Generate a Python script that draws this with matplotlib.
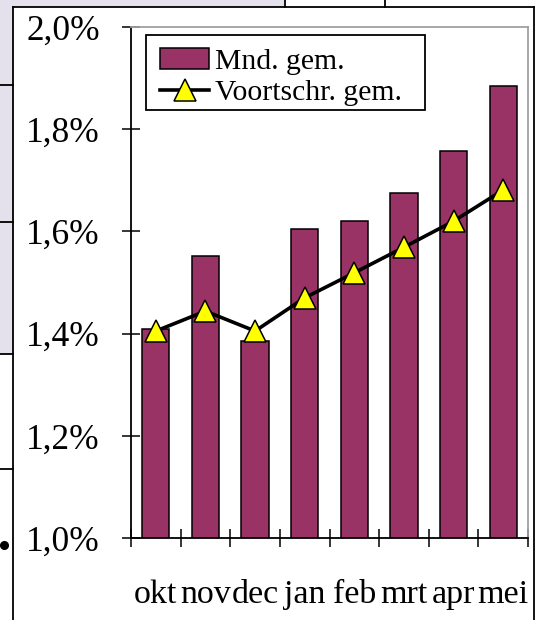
import matplotlib.pyplot as plt
from matplotlib.lines import Line2D
from matplotlib.patches import Rectangle
from matplotlib.ticker import FixedLocator, FuncFormatter

plt.rcParams["font.family"] = ["Liberation Serif", "DejaVu Serif"]

# Data (percent)
months = ["okt", "nov", "dec", "jan", "feb", "mrt", "apr", "mei"]
monthly_avg = [1.409, 1.552, 1.386, 1.605, 1.620, 1.675, 1.757, 1.885]
running_avg = [1.405, 1.444, 1.405, 1.470, 1.519, 1.569, 1.620, 1.681]

W, H = 539, 620
fig = plt.figure(figsize=(W / 100, H / 100), dpi=100)


def fx(px):
    return px / W


def fy(py):
    return 1 - py / H


# Slide remnants around the chart
lavender = "#E4E0EC"
fig.add_artist(Rectangle((0, fy(354)), fx(13), 354 / H, transform=fig.transFigure,
                         facecolor=lavender, edgecolor="none", zorder=0))
fig.add_artist(Rectangle((0, fy(7)), fx(285), 7 / H, transform=fig.transFigure,
                         facecolor=lavender, edgecolor="none", zorder=0))
frame_lines = [
    ((13, 13), (7, 620)),
    ((13, 534), (7, 7)),
    ((534, 534), (7, 620)),
    ((285, 285), (0, 7)),
    ((385, 385), (0, 7)),
    ((0, 13), (85, 85)),
    ((0, 13), (222, 222)),
    ((0, 13), (354, 354)),
    ((0, 13), (469, 469)),
]
for xs, ys in frame_lines:
    fig.add_artist(Line2D([fx(x) for x in xs], [fy(y) for y in ys],
                          transform=fig.transFigure, color="black", lw=1.3))
fig.add_artist(Line2D([fx(4)], [fy(545)], transform=fig.transFigure,
                      marker="o", markersize=5.5, color="black", lw=0))

# Plot area
ax = fig.add_axes([fx(131), fy(538), fx(528) - fx(131), fy(27) - fy(538)])
x = list(range(len(months)))

bars = ax.bar(x, monthly_avg, width=0.55, color="#993366", edgecolor="black",
              linewidth=1.1, label="Mnd. gem.", zorder=2)
line, = ax.plot(x, running_avg, color="black", lw=2.6, marker="^", markersize=16.5,
                markerfacecolor="#FFFF00", markeredgecolor="black",
                markeredgewidth=1.1, label="Voortschr. gem.", zorder=3)

ax.set_xlim(-0.5, len(months) - 0.5)
ax.set_ylim(1.0, 2.0)
ax.set_yticks([1.0, 1.2, 1.4, 1.6, 1.8, 2.0])
ax.yaxis.set_major_formatter(FuncFormatter(lambda v, p: f"{v:.1f}%".replace(".", ",")))

ax.xaxis.set_major_locator(FixedLocator([i - 0.5 for i in range(len(months) + 1)]))
ax.xaxis.set_minor_locator(FixedLocator(x))
ax.set_xticklabels([], minor=False)
ax.set_xticklabels(months, minor=True)

ax.tick_params(axis="both", which="major", direction="inout", length=13, width=1.1,
               color="black")
ax.tick_params(axis="y", labelsize=25.5, pad=16)
ax.tick_params(axis="x", which="minor", length=0, labelsize=24.5, pad=30)

for side in ["left", "bottom"]:
    ax.spines[side].set_color("black")
    ax.spines[side].set_linewidth(1.3)
for side in ["top", "right"]:
    ax.spines[side].set_color("#A0A0A0")
    ax.spines[side].set_linewidth(1.3)

# Legend with a fixed-size frame
ax.add_patch(Rectangle((fx(146), fy(110)), fx(425) - fx(146), 75 / H,
                       transform=fig.transFigure, facecolor="white",
                       edgecolor="black", lw=1.3, clip_on=False, zorder=4.5))
ax.legend([bars, line], ["Mnd. gem.", "Voortschr. gem."], loc="upper left",
          bbox_to_anchor=(fx(150), fy(38)), bbox_transform=fig.transFigure,
          borderaxespad=0, fontsize=21.3, frameon=False, handlelength=1.65,
          handletextpad=0.2, labelspacing=0.15, borderpad=0.35)

fig.savefig("out.png", dpi=100)
